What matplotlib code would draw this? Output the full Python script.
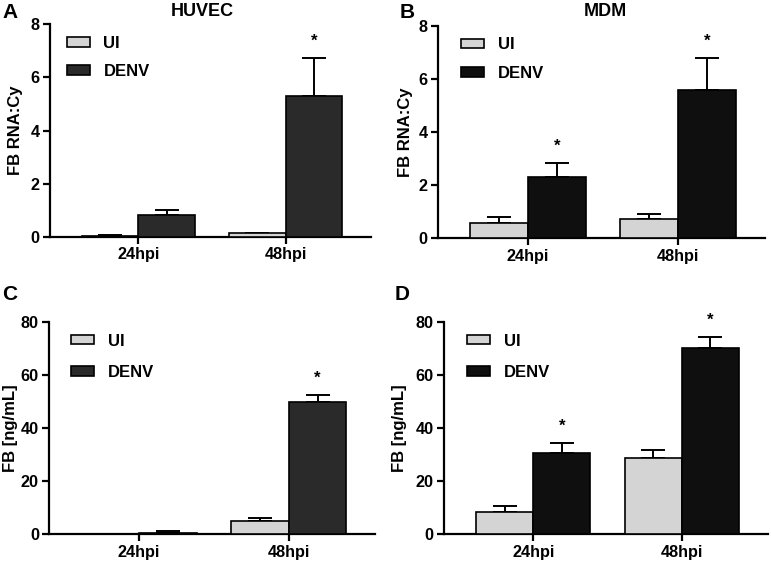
import matplotlib
matplotlib.use("Agg")
import matplotlib.pyplot as plt
import numpy as np
from matplotlib.patches import Patch

plt.rcParams['font.family'] = ['Liberation Sans', 'DejaVu Sans']
plt.rcParams['font.weight'] = 'bold'

####################### Data #############################
categories = ['24hpi', '48hpi']
groups = ['UI', 'DENV']

# panel A - HUVEC RNA
huvec_rna_ui = [0.05, 0.17]
huvec_rna_ui_err = [0.03, 0.0]
huvec_rna_denv = [0.84, 5.32]
huvec_rna_denv_err = [0.17, 1.40]
huvec_rna_sig = [False, True]

# panel B - MDM RNA
mdm_rna_ui = [0.58, 0.72]
mdm_rna_ui_err = [0.20, 0.19]
mdm_rna_denv = [2.29, 5.57]
mdm_rna_denv_err = [0.53, 1.22]
mdm_rna_sig = [True, True]

# panel C - HUVEC protein
huvec_prot_ui = [0.1, 5.1]
huvec_prot_ui_err = [0.0, 1.2]
huvec_prot_denv = [0.5, 49.8]
huvec_prot_denv_err = [0.6, 2.8]
huvec_prot_sig = [False, True]

# panel D - MDM protein
mdm_prot_ui = [8.3, 28.7]
mdm_prot_ui_err = [2.2, 3.0]
mdm_prot_denv = [30.8, 70.4]
mdm_prot_denv_err = [3.6, 3.8]
mdm_prot_sig = [True, True]

UI_COLOR = '#d4d4d4'
DENV_GRAY = '#2a2a2a'
DENV_BLACK = '#0f0f0f'


def bar_panel(ax, ui, ui_err, denv, denv_err, sig, denv_color, ylim, yticks, ylabel,
              label_x, leg_x, leg_spacing):
    x = np.arange(len(categories))
    w = 0.385
    ax.bar(x - w / 2, ui, w, color=UI_COLOR, edgecolor='black', linewidth=1.2, zorder=3)
    ax.bar(x + w / 2, denv, w, color=denv_color, edgecolor='black', linewidth=1.2, zorder=3)
    ax.errorbar(x - w / 2, ui, yerr=[np.zeros(len(ui)), ui_err], fmt='none',
                ecolor='black', elinewidth=1.4, capsize=8.5, capthick=1.4, zorder=2)
    ax.errorbar(x + w / 2, denv, yerr=[np.zeros(len(denv)), denv_err], fmt='none',
                ecolor='black', elinewidth=1.4, capsize=8.5, capthick=1.4, zorder=2)
    for i, s in enumerate(sig):
        if s:
            ax.annotate('*', (x[i] + w / 2, denv[i] + denv_err[i]), xytext=(0, 12),
                        textcoords='offset points', ha='center', va='center',
                        fontsize=12, fontweight='bold')
    ax.set_xlim(-0.6, 1.58)
    ax.set_ylim(*ylim)
    ax.set_yticks(yticks)
    ax.set_xticks(x)
    ax.set_xticklabels(categories)
    ax.set_ylabel(ylabel, fontsize=12, fontweight='bold')
    ax.yaxis.set_label_coords(label_x, 0.5)
    ax.tick_params(labelsize=11.7, width=1.6, length=5, direction='out', pad=2.5)
    for side in ['top', 'right']:
        ax.spines[side].set_visible(False)
    for side in ['left', 'bottom']:
        ax.spines[side].set_linewidth(1.6)
    handles = [Patch(facecolor=UI_COLOR, edgecolor='black', linewidth=1.2),
               Patch(facecolor=denv_color, edgecolor='black', linewidth=1.2)]
    ax.legend(handles, groups, loc='upper left', bbox_to_anchor=(leg_x, 0.985),
              frameon=False, handlelength=1.4, handleheight=0.5,
              handletextpad=0.8, labelspacing=leg_spacing, borderpad=0,
              prop={'weight': 'bold', 'size': 12})


fig = plt.figure(figsize=(7.71, 5.63), dpi=100)
axA = fig.add_axes([0.065, 0.579, 0.416, 0.378])
axB = fig.add_axes([0.568, 0.577, 0.424, 0.377])
axC = fig.add_axes([0.064, 0.051, 0.423, 0.377])
axD = fig.add_axes([0.576, 0.051, 0.420, 0.377])

bar_panel(axA, huvec_rna_ui, huvec_rna_ui_err, huvec_rna_denv, huvec_rna_denv_err,
          huvec_rna_sig, DENV_GRAY, (0, 8), [0, 2, 4, 6, 8], 'FB RNA:Cy',
          -0.084, 0.026, 0.8)
bar_panel(axB, mdm_rna_ui, mdm_rna_ui_err, mdm_rna_denv, mdm_rna_denv_err,
          mdm_rna_sig, DENV_BLACK, (0, 8), [0, 2, 4, 6, 8], 'FB RNA:Cy',
          -0.076, 0.045, 0.8)
bar_panel(axC, huvec_prot_ui, huvec_prot_ui_err, huvec_prot_denv, huvec_prot_denv_err,
          huvec_prot_sig, DENV_GRAY, (0, 80), [0, 20, 40, 60, 80], 'FB [ng/mL]',
          -0.097, 0.041, 0.98)
bar_panel(axD, mdm_prot_ui, mdm_prot_ui_err, mdm_prot_denv, mdm_prot_denv_err,
          mdm_prot_sig, DENV_BLACK, (0, 80), [0, 20, 40, 60, 80], 'FB [ng/mL]',
          -0.114, 0.045, 0.98)

# titles and panel letters
fig.text(202 / 771, 1 - 12 / 563, 'HUVEC', ha='center', va='center', fontsize=13, fontweight='bold')
fig.text(605 / 771, 1 - 12 / 563, 'MDM', ha='center', va='center', fontsize=13, fontweight='bold')
fig.text(10 / 771, 1 - 12 / 563, 'A', ha='center', va='center', fontsize=15, fontweight='bold')
fig.text(407 / 771, 1 - 12 / 563, 'B', ha='center', va='center', fontsize=15, fontweight='bold')
fig.text(10 / 771, 1 - 295 / 563, 'C', ha='center', va='center', fontsize=15, fontweight='bold')
fig.text(402 / 771, 1 - 295 / 563, 'D', ha='center', va='center', fontsize=15, fontweight='bold')

fig.savefig('out.png', dpi=100)
